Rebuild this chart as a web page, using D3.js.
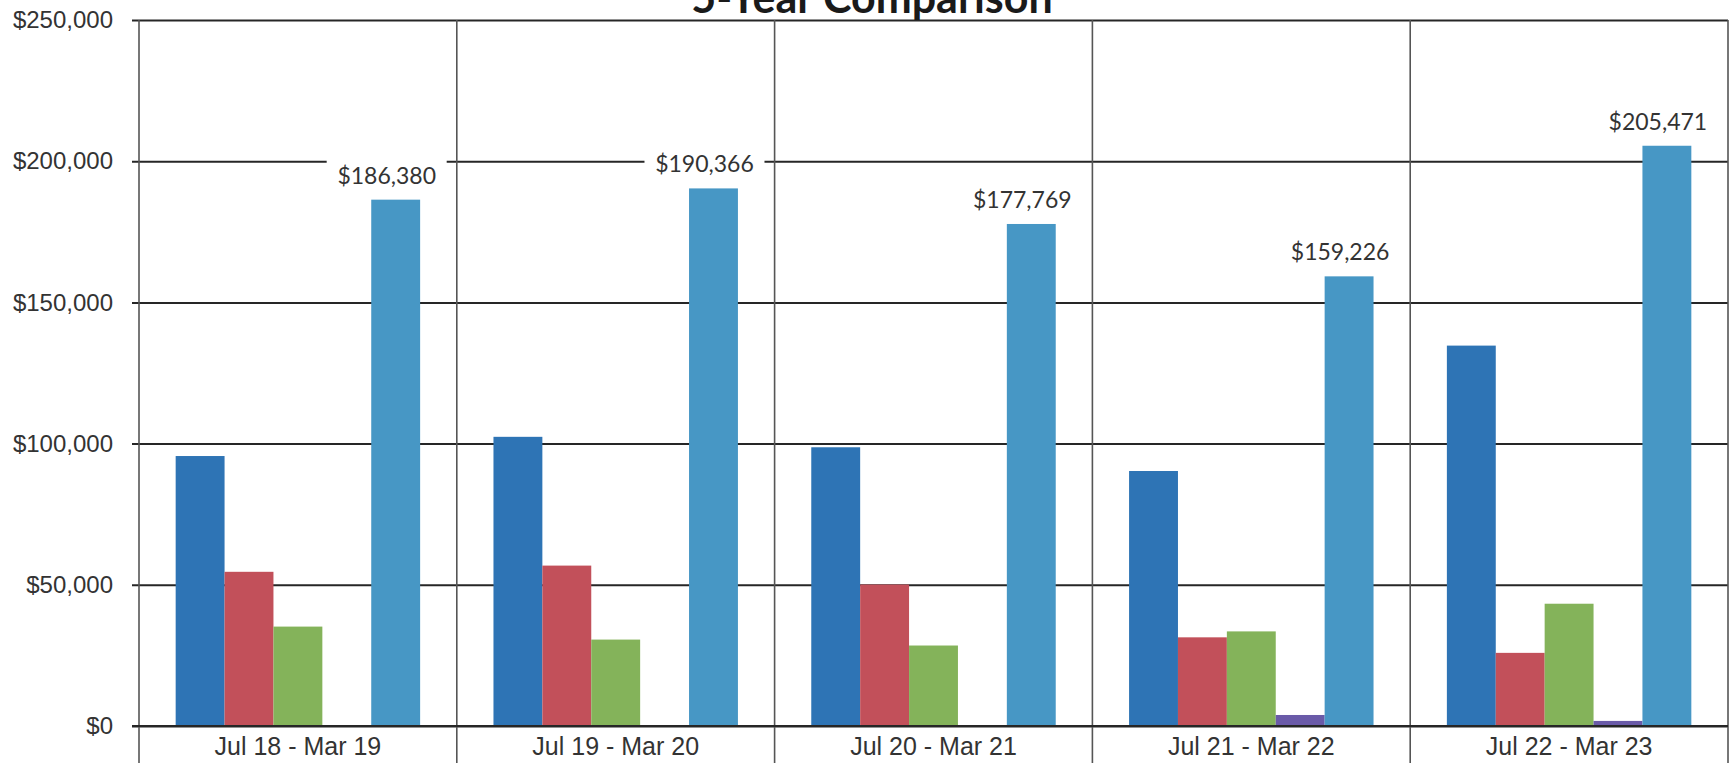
<!DOCTYPE html>
<html>
<head>
<meta charset="utf-8">
<script src="https://cdn.jsdelivr.net/npm/d3@7"></script>
<style>
  html, body { margin: 0; padding: 0; background: #fff; overflow: hidden; }
  svg { display: block; font-family: Lato, "Open Sans", sans-serif; }
</style>
</head>
<body>
<svg id="chart"></svg>
<script>
// values
const categories = ["Jul 18 - Mar 19", "Jul 19 - Mar 20", "Jul 20 - Mar 21", "Jul 21 - Mar 22", "Jul 22 - Mar 23"];
const seriesNames = ["s1", "s2", "s3", "s4", "total"];
const s1Values = [95600, 102400, 98700, 90300, 134700];
const s2Values = [54600, 56800, 50100, 31400, 25900];
const s3Values = [35200, 30600, 28500, 33500, 43300];
const s4Values = [0, 0, 0, 3900, 1800];
const totalValues = [186380, 190366, 177769, 159226, 205471];
const yTicks = [0, 50000, 100000, 150000, 200000, 250000];
const colors = ["#2e74b5", "#c2505a", "#84b35a", "#6a5aa8", "#4797c5"];

const width = 1733;
const height = 763;
const plotLeft = 139, plotRight = 1728, plotTop = 20, plotBottom = 726;

const svg = d3.select("#chart").attr("width", width).attr("height", height);

const rows = categories.map((c, i) => ({
    cat: c,
    vals: [s1Values[i], s2Values[i], s3Values[i], s4Values[i], totalValues[i]]
}));

const xCat = d3.scaleBand().domain(categories).range([plotLeft, plotRight]);
// excel style: gap width 150% of a bar
const xSer = d3.scaleBand().domain(seriesNames).range([0, xCat.bandwidth()]).paddingOuter(0.75);
const y = d3.scaleLinear().domain([0, 250000]).range([plotBottom, plotTop]);

// horizontal gridlines + y labels
const yAxis = svg.append("g")
    .attr("transform", `translate(${plotLeft},0)`)
    .call(d3.axisLeft(y).tickValues(yTicks).tickFormat(d3.format("$,"))
        .tickSizeInner(-(plotRight - plotLeft)).tickSizeOuter(0).tickPadding(26));
yAxis.select(".domain").remove();
yAxis.selectAll(".tick line").attr("x1", -7).attr("stroke", "#262626").attr("stroke-width", 2);
yAxis.selectAll(".tick text").attr("fill", "#333").style("font-size", "24px");

// category dividers, running down through the axis
const dividers = categories.map(c => xCat(c)).concat([plotRight]);
svg.append("g").selectAll("line").data(dividers).enter()
    .append("line")
    .attr("x1", d => d).attr("x2", d => d)
    .attr("y1", plotTop).attr("y2", height)
    .attr("stroke", "#555").attr("stroke-width", 1.6);

// bars
const groups = svg.append("g").selectAll("g").data(rows).enter()
    .append("g")
    .attr("transform", d => `translate(${xCat(d.cat)},0)`);

groups.selectAll("rect")
    .data(d => d.vals.map((v, k) => ({ key: seriesNames[k], v, k })))
    .enter().append("rect")
    .attr("x", d => xSer(d.key))
    .attr("y", d => y(d.v))
    .attr("width", xSer.bandwidth())
    .attr("height", d => plotBottom - y(d.v))
    .attr("fill", d => colors[d.k]);

// category axis
const xAxis = svg.append("g")
    .attr("transform", `translate(0,${plotBottom})`)
    .call(d3.axisBottom(xCat).tickSize(0));
xAxis.select(".domain").remove();
xAxis.selectAll(".tick text")
    .attr("y", 29).attr("dy", null)
    .attr("fill", "#333").style("font-size", "25px");

// baseline on top of bars
svg.append("line")
    .attr("x1", plotLeft - 7).attr("x2", plotRight)
    .attr("y1", y(0)).attr("y2", y(0))
    .attr("stroke", "#262626").attr("stroke-width", 2);

// total labels with white boxes (they cut the gridline)
const fmt = d3.format("$,");
const labels = svg.append("g").selectAll("g").data(rows).enter()
    .append("g")
    .attr("transform", d => `translate(${xCat(d.cat) + xSer("total") + xSer.bandwidth() / 2 - 9},${y(d.vals[4]) - 16})`);
labels.append("rect")
    .attr("x", -60).attr("y", -25).attr("width", 120).attr("height", 32)
    .attr("fill", "#fff");
labels.append("text")
    .attr("text-anchor", "middle")
    .attr("fill", "#333")
    .style("font-size", "23px")
    .text(d => fmt(d.vals[4]));

// title, cut off at the top like the scan
svg.append("text")
    .attr("x", 872)
    .attr("y", 13)
    .attr("text-anchor", "middle")
    .attr("fill", "#1a1a1a")
    .style("font-size", "43px")
    .style("font-weight", "bold")
    .text("5-Year Comparison");
</script>
</body>
</html>
